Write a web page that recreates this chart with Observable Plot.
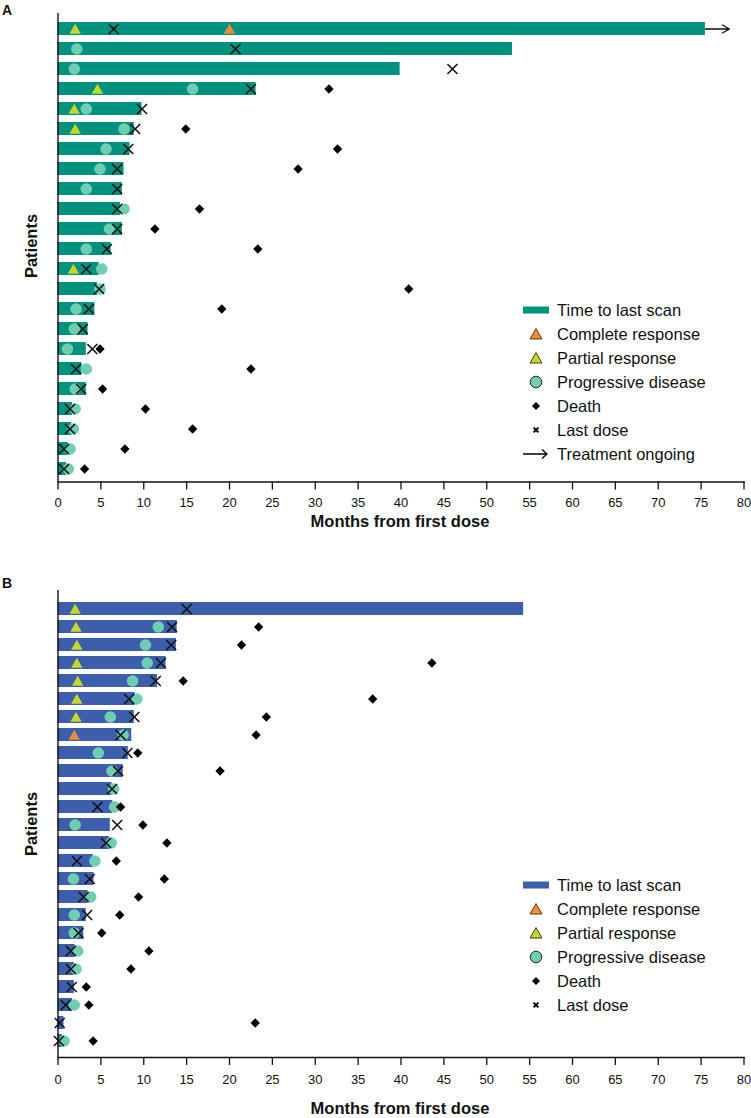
<!DOCTYPE html>
<html>
<head>
<meta charset="utf-8">
<script src="https://cdn.jsdelivr.net/npm/d3@7"></script>
<script src="https://cdn.jsdelivr.net/npm/@observablehq/plot@0.6"></script>
<style>
  body { margin: 0; background: #fff; font-family: "Liberation Sans", Arial, sans-serif; color: #111; }
  #wrap { position: relative; width: 751px; height: 1118px; overflow: hidden; background: #fff; }
  .panel { position: absolute; left: 0; }
  .panel svg text { font-size: 13px !important; font-family: "Liberation Sans", Arial, sans-serif !important; }
  .plabel { position: absolute; left: 2px; font-weight: bold; font-size: 14px; line-height: 14px; }
  .ylab { position: absolute; font-weight: bold; font-size: 16.5px; white-space: nowrap; transform: translate(-50%, -50%) rotate(-90deg); }
  .xlab { position: absolute; font-weight: bold; font-size: 16.5px; white-space: nowrap; transform: translate(-50%, -50%); }
  .legend { position: absolute; left: 515px; }
  .legend .item { display: flex; align-items: center; height: 24px; }
  .legend svg { width: 42px; height: 24px; flex: none; }
  .legend span { font-size: 16.5px; line-height: 24px; white-space: nowrap; }
</style>
</head>
<body>
<div id="wrap">
  <div class="plabel" style="top:3px">A</div>
  <div id="pa" class="panel" style="top:0px"></div>
  <div class="ylab" style="left:31px; top:246px">Patients</div>
  <div class="xlab" style="left:400px; top:521px">Months from first dose</div>
  <div id="legA" class="legend" style="top:298px"></div>

  <div class="plabel" style="top:576px">B</div>
  <div id="pb" class="panel" style="top:560px"></div>
  <div class="ylab" style="left:31px; top:824px">Patients</div>
  <div class="xlab" style="left:400px; top:1108px">Months from first dose</div>
  <div id="legB" class="legend" style="top:873px"></div>
</div>
<script>
// ---------- shared ----------
const xTicks = [0, 5, 10, 15, 20, 25, 30, 35, 40, 45, 50, 55, 60, 65, 70, 75, 80];
const colTealBar = "#00927f";
const colBlueBar = "#3c5eab";
const colPD = "#6fcdb1";
const colPR = "#c8d62b";
const colCR = "#ef8a3b";

// ---------- Panel A (23 patients, top to bottom) ----------
const patientsA = [1,2,3,4,5,6,7,8,9,10,11,12,13,14,15,16,17,18,19,20,21,22,23];
const lastScanA = [75.5, 53.0, 39.9, 23.1, 9.8, 8.9, 8.4, 7.7, 7.5, 7.3, 7.5, 6.2, 4.8, 4.6, 4.3, 3.5, 3.3, 2.8, 3.3, 1.7, 1.6, 1.2, 1.0];
const progressionA = [null, 2.2, 1.9, 15.7, 3.3, 7.7, 5.6, 4.9, 3.3, 7.7, 6.0, 3.3, 5.1, 4.9, 2.1, 1.9, 1.1, 3.3, 2.0, 2.0, 1.8, 1.4, 1.2];
const partialA = [2.0, null, null, 4.6, 1.9, 2.0, null, null, null, null, null, null, 1.8, null, null, null, null, null, null, null, null, null, null];
const completeA = [20.0, null, null, null, null, null, null, null, null, null, null, null, null, null, null, null, null, null, null, null, null, null, null];
const lastDoseA = [6.5, 20.7, 46.0, 22.5, 9.8, 9.0, 8.2, 6.9, 6.9, 6.9, 6.9, 5.7, 3.3, 4.8, 3.6, 2.9, 4.0, 2.1, 2.7, 1.4, 1.4, 0.7, 0.7];
const deathA = [null, null, null, 31.6, null, 14.9, 32.6, 28.0, null, 16.5, 11.3, 23.3, null, 40.9, 19.1, null, 4.9, 22.5, 5.2, 10.2, 15.7, 7.8, 3.1];
const ongoingA = [true, false, false, false, false, false, false, false, false, false, false, false, false, false, false, false, false, false, false, false, false, false, false];
const ongoingArrowEndA = 78.3;

// ---------- Panel B (25 patients, top to bottom) ----------
const patientsB = [1,2,3,4,5,6,7,8,9,10,11,12,13,14,15,16,17,18,19,20,21,22,23,24,25];
const lastScanB = [54.3, 13.9, 13.8, 12.6, 11.6, 9.0, 8.9, 8.6, 8.2, 7.6, 6.3, 6.4, 6.1, 6.0, 4.1, 4.2, 3.5, 3.3, 3.0, 2.0, 1.9, 1.9, 1.7, 0.7, 0.5];
const progressionB = [null, 11.7, 10.2, 10.4, 8.7, 9.2, 6.1, 7.6, 4.7, 6.3, 6.5, 6.6, 2.0, 6.2, 4.3, 1.8, 3.8, 1.9, 1.9, 2.3, 2.1, null, 1.9, null, 0.7];
const partialB = [2.0, 2.1, 2.2, 2.2, 2.3, 2.2, 2.1, null, null, null, null, null, null, null, null, null, null, null, null, null, null, null, null, null, null];
const completeB = [null, null, null, null, null, null, null, 1.9, null, null, null, null, null, null, null, null, null, null, null, null, null, null, null, null, null];
const lastDoseB = [15.0, 13.3, 13.2, 12.0, 11.4, 8.3, 8.9, 7.3, 8.1, 7.0, 6.3, 4.6, 6.9, 5.6, 2.2, 3.7, 3.0, 3.4, 2.4, 1.5, 1.5, 1.6, 0.9, 0.2, 0.1];
const deathB = [null, 23.4, 21.4, 43.6, 14.6, 36.7, 24.3, 23.1, 9.3, 18.9, null, 7.3, 9.9, 12.7, 6.8, 12.4, 9.4, 7.2, 5.1, 10.6, 8.5, 3.3, 3.6, 23.0, 4.1];

function table(patients, scan, pd, pr, cr, dose, death, ongoing) {
  return patients.map((p, i) => ({
    row: p, scan: scan[i], pd: pd[i], pr: pr[i], cr: cr[i], dose: dose[i], death: death[i],
    ongoing: ongoing ? ongoing[i] : false
  }));
}

function panel(data, opts) {
  const marks = [
    Plot.barX(data, {y: "row", x1: 0, x2: "scan", fill: opts.barColor}),
    Plot.dot(data.filter(d => d.pd != null), {x: "pd", y: "row", r: 5.8, fill: colPD}),
    Plot.dot(data.filter(d => d.pr != null), {x: "pr", y: "row", r: 4.2, symbol: "triangle", fill: colPR, dy: 1.4}),
    Plot.dot(data.filter(d => d.cr != null), {x: "cr", y: "row", r: 4.2, symbol: "triangle", fill: colCR, dy: 1.4}),
    Plot.dot(data.filter(d => d.dose != null), {x: "dose", y: "row", r: 4.6, symbol: "times", stroke: "#111", strokeWidth: 1.6}),
    Plot.dot(data.filter(d => d.death != null), {x: "death", y: "row", r: 4.2, symbol: "diamond2", fill: "#000"}),
    Plot.ruleX([0], {stroke: "#111", strokeWidth: 1.4}),
    Plot.frame({anchor: "bottom", stroke: "#111", strokeWidth: 1.4}),
    Plot.axisX({ticks: xTicks, tickSize: 8, tickPadding: opts.tickPadding, tickFormat: d => String(d), label: null, stroke: "#111", strokeWidth: 1.3, fontSize: 13})
  ];
  if (opts.arrowEnd != null) {
    marks.push(Plot.arrow(data.filter(d => d.ongoing), {x1: "scan", x2: () => opts.arrowEnd, y1: "row", y2: "row", stroke: "#111", strokeWidth: 1.3, headLength: 11, bend: 0}));
  }
  return Plot.plot({
    width: 751,
    height: opts.height,
    marginLeft: 57.5,
    marginRight: 7.5,
    marginTop: opts.marginTop,
    marginBottom: opts.marginBottom,
    style: {fontFamily: "'Liberation Sans', Arial, sans-serif", fontSize: "13px", color: "#111", background: "transparent"},
    x: {domain: [0, 80]},
    y: {type: "band", domain: data.map(d => d.row), paddingInner: opts.paddingInner, paddingOuter: opts.paddingOuter, align: opts.align, axis: null},
    marks
  });
}

const dataA = table(patientsA, lastScanA, progressionA, partialA, completeA, lastDoseA, deathA, ongoingA);
const dataB = table(patientsB, lastScanB, progressionB, partialB, completeB, lastDoseB, deathB, null);

document.getElementById("pa").appendChild(panel(dataA, {
  barColor: colTealBar, height: 535, marginTop: 13, marginBottom: 53.5,
  paddingInner: 0.35, paddingOuter: 0.3875, align: 0.594, tickPadding: 8, arrowEnd: ongoingArrowEndA
}));
document.getElementById("pb").appendChild(panel(dataB, {
  barColor: colBlueBar, height: 558, marginTop: 30, marginBottom: 61,
  paddingInner: 0.27, paddingOuter: 0.373, align: 0.555, tickPadding: 9, arrowEnd: null
}));

// ---------- Legends ----------
const legendLabels = ["Time to last scan", "Complete response", "Partial response", "Progressive disease", "Death", "Last dose", "Treatment ongoing"];
function symbolSvg(kind, barColor) {
  switch (kind) {
    case 0: return `<rect x="8" y="8.5" width="26" height="7" fill="${barColor}"/>`;
    case 1: return `<path d="M21,6.5 L27,17 L15,17 Z" fill="${colCR}" stroke="#6b3a14" stroke-width="1"/>`;
    case 2: return `<path d="M21,6.5 L27,17 L15,17 Z" fill="${colPR}" stroke="#3d3d10" stroke-width="1"/>`;
    case 3: return `<circle cx="21" cy="12" r="5.8" fill="${colPD}" stroke="#223" stroke-width="1"/>`;
    case 4: return `<path d="M21,8 L25,12 L21,16 L17,12 Z" fill="#000"/>`;
    case 5: return `<path d="M18.6,9.6 L23.4,14.4 M23.4,9.6 L18.6,14.4" stroke="#000" stroke-width="2"/>`;
    case 6: return `<path d="M8,12 L32,12 M27,7.5 L32,12 L27,16.5" stroke="#000" stroke-width="1.3" fill="none"/>`;
  }
}
function legend(el, n, barColor) {
  const root = document.getElementById(el);
  for (let i = 0; i < n; i++) {
    const item = document.createElement("div");
    item.className = "item";
    item.innerHTML = `<svg viewBox="0 0 42 24">${symbolSvg(i, barColor)}</svg><span>${legendLabels[i]}</span>`;
    root.appendChild(item);
  }
}
legend("legA", 7, colTealBar);
legend("legB", 6, colBlueBar);
</script>
</body>
</html>
